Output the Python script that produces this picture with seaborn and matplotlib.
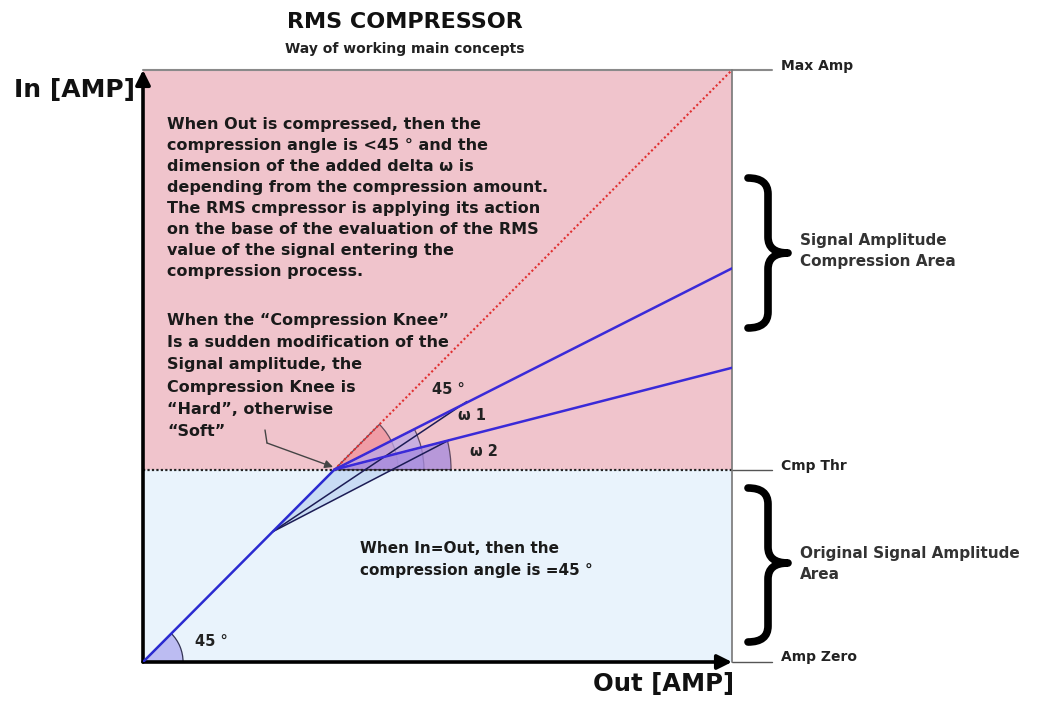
import matplotlib
matplotlib.use("Agg")
import matplotlib.pyplot as plt
import matplotlib.patches as mpatches
import matplotlib.transforms as mtransforms
from matplotlib.lines import Line2D
from matplotlib.path import Path
import numpy as np
import seaborn as sns

# amplitude scale: 0 = Amp Zero, 100 = Max Amp
amp_zero = 0
max_amp = 100
cmp_thr = 32.5

# transfer curves (Out, In)
unity_out = [0, 22, 32.5]
unity_in = [0, 22, 32.5]
ref_out = [32.5, 100]
ref_in = [32.5, 100]
comp1_out = [32.5, 100]
comp1_in = [32.5, 66.5]
comp2_out = [32.5, 100]
comp2_in = [32.5, 49.7]
soft1_out = [22, 55]
soft1_in = [22, 44]
soft2_out = [22, 52]
soft2_in = [22, 37.5]

angle_names = ["45 °", "ω 1", "ω 2"]
level_names = ["Max Amp", "Cmp Thr", "Amp Zero"]
area_names = ["Signal Amplitude\nCompression Area", "Original Signal Amplitude\nArea"]

text_out = ("When Out is compressed, then the\n"
            "compression angle is <45 ° and the\n"
            "dimension of the added delta ω is\n"
            "depending from the compression amount.\n"
            "The RMS cmpressor is applying its action\n"
            "on the base of the evaluation of the RMS\n"
            "value of the signal entering the\n"
            "compression process.")
knee_lines = ["When the “Compression Knee”",
              "Is a sudden modification of the",
              "Signal amplitude, the",
              "Compression Knee is",
              "“Hard”, otherwise",
              "“Soft”"]
text_in = "When In=Out, then the\ncompression angle is =45 °"

sns.set_theme(style="white")
plt.rcParams["font.family"] = ["DejaVu Sans"]
plt.rcParams["font.weight"] = "bold"

W, H = 1042, 701
fig = plt.figure(figsize=(W / 100, H / 100), dpi=100)
# pixel coordinates of the picture (y down)
px = mtransforms.Affine2D().scale(1 / W, -1 / H).translate(0, 1) + fig.transFigure

bx0, by0, bx1, by1 = 143, 70, 732, 662
ax = fig.add_axes([bx0 / W, 1 - by1 / H, (bx1 - bx0) / W, (by1 - by0) / H])
ax.set_xlim(amp_zero, max_amp)
ax.set_ylim(amp_zero, max_amp)
ax.axis("off")

# areas
ax.axhspan(cmp_thr, max_amp, color="#f0c4cc", zorder=0)
ax.axhspan(amp_zero, cmp_thr, color="#e9f3fc", zorder=0)

# soft knee shading below the threshold
x_cross = soft2_out[0] + (cmp_thr - soft2_in[0]) * (soft2_out[1] - soft2_out[0]) / (soft2_in[1] - soft2_in[0])
ax.add_patch(mpatches.Polygon([(unity_out[1], unity_in[1]), (cmp_thr, cmp_thr), (x_cross, cmp_thr)],
                              closed=True, facecolor="#c9dcf4", edgecolor="none", zorder=1))

# angle wedges at the knee
slopes = [1.0,
          (comp1_in[1] - comp1_in[0]) / (comp1_out[1] - comp1_out[0]),
          (comp2_in[1] - comp2_in[0]) / (comp2_out[1] - comp2_out[0])]
angles = [np.degrees(np.arctan(s)) for s in slopes]
radii = [10.8, 15.2, 19.8]
wedge_cols = ["#f0909a", "#bba8e8", "#a58ade"]
for ang, r, c in zip(angles, radii, wedge_cols):
    ax.add_patch(mpatches.Wedge((cmp_thr, cmp_thr), r, 0, ang, facecolor=c, alpha=0.75,
                                edgecolor="#3a2a40", lw=0.9, zorder=2))

# 45 degree wedge at origin
ax.add_patch(mpatches.Wedge((amp_zero, amp_zero), 6.8, 0, 45, facecolor="#bcbcf2",
                            edgecolor="#333355", lw=0.9, zorder=2))

# threshold line
ax.plot([amp_zero, max_amp], [cmp_thr, cmp_thr], ls=(0, (1, 1)), color="#222222", lw=1.6, zorder=3)
ax.plot([max_amp, 106.8], [cmp_thr, cmp_thr], color="#555555", lw=1, clip_on=False)
# box edges and level extensions
ax.plot([amp_zero, 106.8], [max_amp, max_amp], color="#8a8a8a", lw=1.5, clip_on=False, zorder=3)
ax.plot([max_amp, max_amp], [amp_zero, max_amp], color="#777777", lw=1.2, clip_on=False, zorder=3)
ax.plot([max_amp, 106.8], [amp_zero, amp_zero], color="#555555", lw=1, clip_on=False)

# transfer lines
sns.lineplot(x=ref_out, y=ref_in, ax=ax, color="#e03030", lw=1.5, ls=(0, (1, 1.2)), zorder=4)
sns.lineplot(x=soft1_out, y=soft1_in, ax=ax, color="#1c1c55", lw=1.1, zorder=4)
sns.lineplot(x=soft2_out, y=soft2_in, ax=ax, color="#1c1c55", lw=1.1, zorder=4)
sns.lineplot(x=unity_out, y=unity_in, ax=ax, color="#2a2ad0", lw=1.8, zorder=5)
sns.lineplot(x=comp1_out, y=comp1_in, ax=ax, color="#3a2ad8", lw=1.8, zorder=5)
sns.lineplot(x=comp2_out, y=comp2_in, ax=ax, color="#3a2ad8", lw=1.8, zorder=5)

# axes arrows
arrow = dict(arrowstyle="-|>", lw=2.6, color="black", mutation_scale=22, shrinkA=0, shrinkB=0)
ax.annotate("", xy=(max_amp, amp_zero), xytext=(amp_zero, amp_zero), arrowprops=arrow, annotation_clip=False)
ax.annotate("", xy=(amp_zero, max_amp), xytext=(amp_zero, amp_zero), arrowprops=arrow, annotation_clip=False)

# knee pointer
fig.add_artist(Line2D([265, 267], [430, 443], transform=px, color="#444444", lw=1))
ax.annotate("", xy=(333, 467), xytext=(267, 443), xycoords=px, textcoords=px,
            arrowprops=dict(arrowstyle="-|>", lw=1, color="#444444", mutation_scale=12,
                            shrinkA=0, shrinkB=0), annotation_clip=False)


def brace(xl, yt, yb, ym, w):
    xm = xl + w * 0.5
    q = 16
    verts = [(xl, yt), (xm, yt), (xm, yt + q), (xm, ym - q), (xm, ym), (xl + w, ym),
             (xm, ym), (xm, ym + q), (xm, yb - q), (xm, yb), (xl, yb)]
    codes = [Path.MOVETO, Path.CURVE3, Path.CURVE3, Path.LINETO, Path.CURVE3, Path.CURVE3,
             Path.CURVE3, Path.CURVE3, Path.LINETO, Path.CURVE3, Path.CURVE3]
    fig.add_artist(mpatches.PathPatch(Path(verts, codes), transform=px, facecolor="none",
                                      edgecolor="black", lw=5.5, capstyle="round", joinstyle="round"))


brace(748, 178, 328, 253, 40)
brace(748, 488, 642, 563, 40)

# texts
fig.text(405, 22, "RMS COMPRESSOR", transform=px, ha="center", va="center", fontsize=16, color="#111111")
fig.text(405, 49, "Way of working main concepts", transform=px, ha="center", va="center", fontsize=10, color="#222222")
fig.text(135, 90, "In [AMP]", transform=px, ha="right", va="center", fontsize=18, color="#111111")
fig.text(664, 684, "Out [AMP]", transform=px, ha="center", va="center", fontsize=17.5, color="#111111")

fig.text(167, 117, text_out, transform=px, ha="left", va="top", fontsize=11.5, linespacing=1.5, color="#1a1a1a")
for i, s in enumerate(knee_lines):
    fig.text(167, 320 + 22.4 * i, s, transform=px, ha="left", va="center", fontsize=11.5, color="#1a1a1a")
fig.text(360, 541, text_in, transform=px, ha="left", va="top", fontsize=11, linespacing=1.55, color="#1a1a1a")

for (x, y), s in zip([(432, 390), (458, 415), (470, 451)], angle_names):
    fig.text(x, y, s, transform=px, ha="left", va="center", fontsize=10.5, color="#222222")
fig.text(195, 641, "45 °", transform=px, ha="left", va="center", fontsize=10.5, color="#222222")

for y, s in zip([66, 466, 657], level_names):
    fig.text(781, y, s, transform=px, ha="left", va="center", fontsize=10, color="#222222")
for y, s in zip([251, 564], area_names):
    fig.text(800, y, s, transform=px, ha="left", va="center", fontsize=11, linespacing=1.58, color="#333333")

fig.savefig("out.png", dpi=100)
